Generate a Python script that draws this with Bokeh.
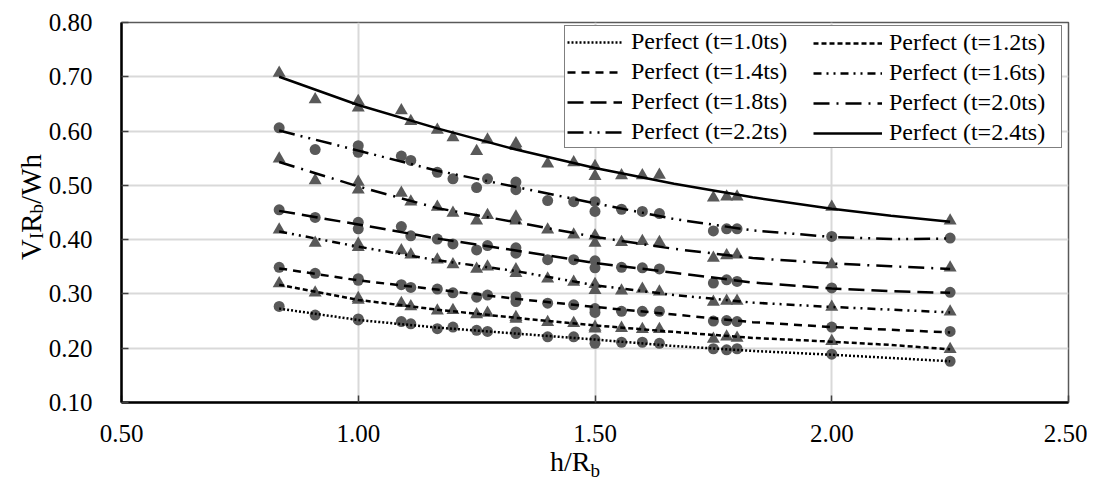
from bokeh.plotting import figure
from bokeh.models import Range1d, FixedTicker, NumeralTickFormatter, Legend, LegendItem, Div
from bokeh.layouts import row, column
from bokeh.embed import file_html
from bokeh.resources import INLINE

# ---------------- data ----------------
h_rb = [0.833, 0.909, 1.0, 1.0, 1.091, 1.111, 1.167, 1.2, 1.25, 1.273, 1.333, 1.333,
        1.4, 1.455, 1.5, 1.5, 1.556, 1.6, 1.636, 1.75, 1.778, 1.8, 2.0, 2.25]

pts_t10 = [0.277, 0.261, 0.254, 0.252, 0.249, 0.245, 0.236, 0.239, 0.233, 0.231, 0.230, 0.227,
           0.221, 0.221, 0.216, 0.209, 0.211, 0.211, 0.209, 0.199, 0.197, 0.199, 0.189, 0.176]
pts_t12 = [0.319, 0.302, 0.292, 0.289, 0.283, 0.277, 0.269, 0.270, 0.262, 0.265, 0.257, 0.254,
           0.248, 0.246, 0.239, 0.236, 0.237, 0.235, 0.235, 0.217, 0.221, 0.219, 0.213, 0.198]
pts_t14 = [0.349, 0.338, 0.328, 0.325, 0.317, 0.312, 0.309, 0.302, 0.294, 0.298, 0.295, 0.286,
           0.283, 0.280, 0.273, 0.266, 0.268, 0.268, 0.268, 0.250, 0.251, 0.249, 0.239, 0.231]
pts_t16 = [0.418, 0.394, 0.392, 0.386, 0.380, 0.372, 0.363, 0.354, 0.346, 0.350, 0.345, 0.338,
           0.328, 0.322, 0.318, 0.307, 0.306, 0.309, 0.304, 0.285, 0.287, 0.287, 0.276, 0.267]
pts_t18 = [0.455, 0.441, 0.432, 0.420, 0.424, 0.407, 0.401, 0.392, 0.381, 0.389, 0.385, 0.375,
           0.363, 0.363, 0.361, 0.348, 0.349, 0.348, 0.346, 0.320, 0.326, 0.323, 0.311, 0.303]
pts_t20 = [0.549, 0.509, 0.506, 0.492, 0.486, 0.470, 0.460, 0.449, 0.435, 0.445, 0.442, 0.435,
           0.418, 0.409, 0.407, 0.394, 0.395, 0.397, 0.395, 0.366, 0.371, 0.372, 0.354, 0.348]
pts_t22 = [0.606, 0.566, 0.573, 0.561, 0.554, 0.546, 0.524, 0.512, 0.496, 0.512, 0.506, 0.492,
           0.472, 0.470, 0.470, 0.452, 0.456, 0.452, 0.448, 0.416, 0.420, 0.420, 0.406, 0.403]
pts_t24 = [0.707, 0.658, 0.655, 0.643, 0.638, 0.618, 0.602, 0.588, 0.563, 0.584, 0.577, 0.572,
           0.540, 0.542, 0.535, 0.517, 0.518, 0.518, 0.519, 0.477, 0.479, 0.479, 0.460, 0.435]

curve_x = [0.833, 1.0, 1.167, 1.333, 1.5, 1.667, 1.833, 2.0, 2.125, 2.25]
curve_t10 = [0.273, 0.252, 0.238, 0.227, 0.216, 0.204, 0.195, 0.188, 0.182, 0.176]
curve_t12 = [0.317, 0.289, 0.271, 0.256, 0.242, 0.230, 0.219, 0.212, 0.206, 0.198]
curve_t14 = [0.347, 0.325, 0.308, 0.291, 0.276, 0.262, 0.248, 0.239, 0.234, 0.229]
curve_t16 = [0.415, 0.387, 0.362, 0.342, 0.316, 0.298, 0.284, 0.276, 0.271, 0.266]
curve_t18 = [0.453, 0.428, 0.402, 0.380, 0.357, 0.339, 0.321, 0.310, 0.305, 0.302]
curve_t20 = [0.543, 0.498, 0.458, 0.432, 0.405, 0.383, 0.366, 0.356, 0.351, 0.346]
curve_t22 = [0.601, 0.564, 0.527, 0.497, 0.467, 0.438, 0.417, 0.405, 0.401, 0.402]
curve_t24 = [0.700, 0.648, 0.605, 0.566, 0.532, 0.503, 0.478, 0.457, 0.444, 0.433]

legend_labels = ["Perfect (t=1.0ts)", "Perfect (t=1.2ts)", "Perfect (t=1.4ts)", "Perfect (t=1.6ts)",
                 "Perfect (t=1.8ts)", "Perfect (t=2.0ts)", "Perfect (t=2.2ts)", "Perfect (t=2.4ts)"]
x_ticks = [0.5, 1.0, 1.5, 2.0, 2.5]
y_ticks = [0.1, 0.2, 0.3, 0.4, 0.5, 0.6, 0.7, 0.8]

# ---------------- layout ----------------
YT_MARGIN, YT_W, YT_H = 17, 28, 414
PW, PH = 1042, 460
BL, BR, BT, BB = 74, 19, 22, 58
X0, X1, Y0, Y1 = 0.5, 2.5, 0.1, 0.8
FONT = "Liberation Serif"

p = figure(width=PW, height=PH, output_backend="svg", toolbar_location=None,
           x_range=Range1d(X0, X1), y_range=Range1d(Y0, Y1),
           min_border_left=BL, min_border_right=BR, min_border_top=BT, min_border_bottom=BB,
           background_fill_color="white", border_fill_color="white")
p.outline_line_color = "#595959"
p.outline_line_width = 1.5

for ax in (p.xaxis[0], p.yaxis[0]):
    ax.axis_line_color = "black"
    ax.axis_line_width = 2.5
    ax.major_tick_in = 7
    ax.major_tick_out = 0
    ax.major_tick_line_color = "#404040"
    ax.major_tick_line_width = 1.5
    ax.minor_tick_line_color = None
    ax.major_label_text_font = FONT
    ax.major_label_text_font_size = "25px"
    ax.major_label_text_color = "black"
    ax.formatter = NumeralTickFormatter(format="0.00")
p.xaxis.ticker = FixedTicker(ticks=x_ticks)
p.yaxis.ticker = FixedTicker(ticks=y_ticks)
p.xaxis.major_label_standoff = 22
p.yaxis.major_label_standoff = 29

p.xgrid.ticker = FixedTicker(ticks=x_ticks)
p.ygrid.ticker = FixedTicker(ticks=y_ticks)
p.grid.grid_line_color = "#d9d9d9"
p.grid.grid_line_width = 2

MARK = "#595959"
series = [
    (pts_t10, curve_t10, "circle", "2 2"),
    (pts_t12, curve_t12, "triangle", "5 3"),
    (pts_t14, curve_t14, "circle", "8 6"),
    (pts_t16, curve_t16, "triangle", "8 5 2 5 2 5"),
    (pts_t18, curve_t18, "circle", "16 7"),
    (pts_t20, curve_t20, "triangle", "16 7 2 7"),
    (pts_t22, curve_t22, "circle", "16 6 2 6 2 6"),
    (pts_t24, curve_t24, "triangle", "solid"),
]

items = []
for (pts, cur, mk, dash), lab in zip(series, legend_labels):
    size = 11 if mk == "circle" else 13
    p.scatter(h_rb, pts, marker=mk, size=size, fill_color=MARK, line_color=None)
    r = p.line(curve_x, cur, line_color="black", line_width=2.5, line_dash=dash)
    items.append(LegendItem(label=lab, renderers=[r]))

def make_legend(its, loc, gw, stand, lw, boxed):
    lg = Legend(items=its, location=loc)
    lg.label_text_font = FONT
    lg.label_text_font_size = "24px"
    lg.label_text_color = "black"
    lg.glyph_width = gw
    lg.glyph_height = 20
    lg.label_height = 20
    lg.label_standoff = stand
    lg.label_width = lw
    lg.spacing = 3
    lg.padding = 2
    lg.margin = 0
    if boxed:
        lg.border_line_color = "black"
        lg.border_line_width = 1.5
        lg.background_fill_color = "white"
        lg.background_fill_alpha = 1
    else:
        lg.border_line_color = None
        lg.background_fill_alpha = 0
    return lg

# first column (also draws the common box), then second column on top
leg1 = make_legend(items[0::2], (443, 254), 55, 9, 428, True)
leg2 = make_legend(items[1::2], (692, 256), 69, 7, 150, False)
p.add_layout(leg1, "center")
p.add_layout(leg2, "center")

# ---------------- axis titles (HTML text with subscripts) ----------------
SUB = 'font-size:19px;vertical-align:-6px'
ytitle = Div(text=(f'<div style="writing-mode:vertical-rl;transform:rotate(180deg);width:{YT_W}px;'
                   f'height:{YT_H}px;text-align:center;font-family:\'{FONT}\';font-size:29px;'
                   f'line-height:{YT_W}px;color:black;white-space:nowrap;">'
                   f'V<span style="{SUB}">I</span>R<span style="{SUB}">b</span>/Wh</div>'),
             width=YT_W, height=YT_H, margin=(0, 0, 0, YT_MARGIN))
xtitle = Div(text=(f'<div style="width:1024px;text-align:center;font-family:\'{FONT}\';font-size:28px;'
                   f'line-height:28px;color:black;white-space:nowrap;">'
                   f'h/R<span style="{SUB}">b</span></div>'),
             width=1024, height=32, margin=(-12, 0, 0, 18))

layout = row(ytitle, column(p, xtitle))
open("out.html", "w").write(file_html(layout, INLINE))
